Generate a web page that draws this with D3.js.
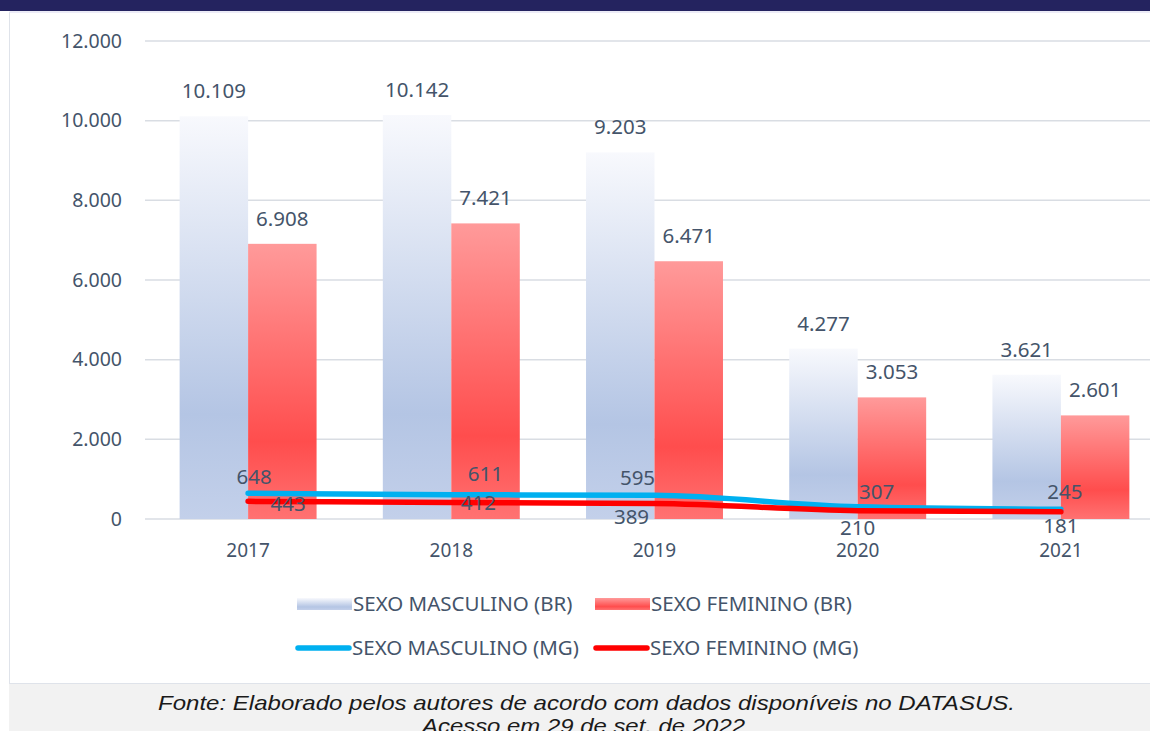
<!DOCTYPE html>
<html>
<head>
<meta charset="utf-8">
<script src="https://cdn.jsdelivr.net/npm/d3@7"></script>
<style>
  body { margin: 0; background: #fff; }
  svg { display: block; }
</style>
</head>
<body>
<div id="chart"></div>
<script>
// data
const years = ["2017", "2018", "2019", "2020", "2021"];
const masculinoBR = [10109, 10142, 9203, 4277, 3621];
const femininoBR = [6908, 7421, 6471, 3053, 2601];
const masculinoMG = [648, 611, 595, 307, 245];
const femininoMG = [443, 412, 389, 210, 181];
const yTicks = [0, 2000, 4000, 6000, 8000, 10000, 12000];
const seriesNames = ["SEXO MASCULINO (BR)", "SEXO FEMININO (BR)", "SEXO MASCULINO (MG)", "SEXO FEMININO (MG)"];

// label nudges for the MG lines (they were moved by hand in the original)
const mascNudge = [[6, -16], [34, -21], [-17, -17], [19, -15], [4, -17]];
const femNudge = [[40, 2], [27, 0], [-23, 13], [0, 17], [0, 14]];

const W = 1150, H = 731;
const textColor = "#44546a";
const font = "'Noto Sans', sans-serif";

const fmt = d3.formatLocale({ decimal: ",", thousands: ".", grouping: [3], currency: ["", ""] }).format(",d");

const svg = d3.select("#chart").append("svg")
  .attr("width", W)
  .attr("height", H);

// gradients
const defs = svg.append("defs");
const gM = defs.append("linearGradient").attr("id", "gradM")
  .attr("x1", 0).attr("y1", 0).attr("x2", 0).attr("y2", 1);
gM.append("stop").attr("offset", 0).attr("stop-color", "#f8f9fd");
gM.append("stop").attr("offset", 0.74).attr("stop-color", "#b4c5e4");
gM.append("stop").attr("offset", 1).attr("stop-color", "#c3d0ea");
const gF = defs.append("linearGradient").attr("id", "gradF")
  .attr("x1", 0).attr("y1", 0).attr("x2", 0).attr("y2", 1);
gF.append("stop").attr("offset", 0).attr("stop-color", "#ff9a9a");
gF.append("stop").attr("offset", 0.72).attr("stop-color", "#ff4d4d");
gF.append("stop").attr("offset", 1).attr("stop-color", "#ff7272");

// frame: dark band on top, panel border, grey caption strip
svg.append("rect").attr("x", 0).attr("y", 0).attr("width", W).attr("height", 11).attr("fill", "#24235f");
svg.append("line").attr("x1", 9.5).attr("x2", W).attr("y1", 12).attr("y2", 12).attr("stroke", "#d9d8ef");
svg.append("line").attr("x1", 9.5).attr("x2", 9.5).attr("y1", 12).attr("y2", 683).attr("stroke", "#dfe3ea");
svg.append("rect").attr("x", 9).attr("y", 683).attr("width", W - 9).attr("height", H - 683).attr("fill", "#f2f2f2");
svg.append("line").attr("x1", 9).attr("x2", W).attr("y1", 683.5).attr("y2", 683.5).attr("stroke", "#dfe3ea");

// scales
const x0 = d3.scaleBand()
  .domain(years)
  .range([146.5, 1162.5])
  .paddingInner(0.326)
  .paddingOuter(0.163);

const x1 = d3.scaleBand()
  .domain(["m", "f"])
  .range([0, x0.bandwidth()]);

const y = d3.scaleLinear()
  .domain([0, 12000])
  .range([519, 41]);

// grid
svg.append("g")
  .selectAll("line")
  .data(yTicks)
  .join("line")
  .attr("x1", 145).attr("x2", W)
  .attr("y1", d => y(d)).attr("y2", d => y(d))
  .attr("stroke", "#d9dde3")
  .attr("stroke-width", 1.5);

// y axis labels
svg.append("g")
  .selectAll("text")
  .data(yTicks)
  .join("text")
  .attr("x", 122)
  .attr("y", d => y(d))
  .attr("dy", "0.35em")
  .attr("text-anchor", "end")
  .attr("fill", textColor)
  .style("font-family", font)
  .style("font-size", "19.5px")
  .text(d => fmt(d));

// x axis labels
svg.append("g")
  .selectAll("text")
  .data(years)
  .join("text")
  .attr("x", d => x0(d) + x0.bandwidth() / 2)
  .attr("y", 557)
  .attr("text-anchor", "middle")
  .attr("fill", textColor)
  .style("font-family", font)
  .style("font-size", "19px")
  .text(d => d);

// bars
const groups = svg.append("g")
  .selectAll("g")
  .data(years)
  .join("g")
  .attr("transform", d => `translate(${x0(d)},0)`);

groups.append("rect")
  .attr("x", x1("m"))
  .attr("width", x1.bandwidth())
  .attr("y", (d, i) => y(masculinoBR[i]))
  .attr("height", (d, i) => y(0) - y(masculinoBR[i]))
  .attr("fill", "url(#gradM)");

groups.append("rect")
  .attr("x", x1("f"))
  .attr("width", x1.bandwidth())
  .attr("y", (d, i) => y(femininoBR[i]))
  .attr("height", (d, i) => y(0) - y(femininoBR[i]))
  .attr("fill", "url(#gradF)");

groups.append("text")
  .attr("x", x1("m") + x1.bandwidth() / 2)
  .attr("y", (d, i) => y(masculinoBR[i]) - 18)
  .attr("text-anchor", "middle")
  .attr("fill", textColor)
  .style("font-family", font)
  .style("font-size", "20.5px")
  .text((d, i) => fmt(masculinoBR[i]));

groups.append("text")
  .attr("x", x1("f") + x1.bandwidth() / 2)
  .attr("y", (d, i) => y(femininoBR[i]) - 18)
  .attr("text-anchor", "middle")
  .attr("fill", textColor)
  .style("font-family", font)
  .style("font-size", "20.5px")
  .text((d, i) => fmt(femininoBR[i]));

// MG lines
const cx = d => x0(d) + x0.bandwidth() / 2;
const line = vals => d3.line()
  .x(d => cx(d))
  .y((d, i) => y(vals[i]))
  .curve(d3.curveMonotoneX)(years);

svg.append("path")
  .attr("d", line(masculinoMG))
  .attr("fill", "none")
  .attr("stroke", "#00b0f0")
  .attr("stroke-width", 5.5)
  .attr("stroke-linecap", "round");

svg.append("path")
  .attr("d", line(femininoMG))
  .attr("fill", "none")
  .attr("stroke", "#ff0000")
  .attr("stroke-width", 5.5)
  .attr("stroke-linecap", "round");

// MG labels
svg.append("g")
  .selectAll("text")
  .data(years)
  .join("text")
  .attr("x", (d, i) => cx(d) + mascNudge[i][0])
  .attr("y", (d, i) => y(masculinoMG[i]) + mascNudge[i][1])
  .attr("dy", "0.35em")
  .attr("text-anchor", "middle")
  .attr("fill", textColor)
  .style("font-family", font)
  .style("font-size", "20.5px")
  .text((d, i) => masculinoMG[i]);

svg.append("g")
  .selectAll("text")
  .data(years)
  .join("text")
  .attr("x", (d, i) => cx(d) + femNudge[i][0])
  .attr("y", (d, i) => y(femininoMG[i]) + femNudge[i][1])
  .attr("dy", "0.35em")
  .attr("text-anchor", "middle")
  .attr("fill", textColor)
  .style("font-family", font)
  .style("font-size", "20.5px")
  .text((d, i) => femininoMG[i]);

// legend
const legend = svg.append("g").style("font-family", font).style("font-size", "20.5px");
const legendItems = [
  { name: seriesNames[0], x: 297, y: 604, type: "rect", fill: "url(#gradM)" },
  { name: seriesNames[1], x: 595, y: 604, type: "rect", fill: "url(#gradF)" },
  { name: seriesNames[2], x: 296, y: 648, type: "line", fill: "#00b0f0" },
  { name: seriesNames[3], x: 594, y: 648, type: "line", fill: "#ff0000" }
];
legendItems.forEach(it => {
  if (it.type === "rect") {
    legend.append("rect")
      .attr("x", it.x).attr("y", it.y - 6)
      .attr("width", 55).attr("height", 12)
      .attr("fill", it.fill);
  } else {
    legend.append("line")
      .attr("x1", it.x + 2).attr("x2", it.x + 53)
      .attr("y1", it.y).attr("y2", it.y)
      .attr("stroke", it.fill)
      .attr("stroke-width", 5.5)
      .attr("stroke-linecap", "round");
  }
  legend.append("text")
    .attr("x", it.x + 56)
    .attr("y", it.y)
    .attr("dy", "0.35em")
    .attr("fill", textColor)
    .text(it.name);
});

// caption
const caption = svg.append("g")
  .style("font-family", "'Liberation Sans', Arial, sans-serif")
  .style("font-style", "italic")
  .style("font-size", "21px")
  .attr("fill", "#1a1a1a");
caption.append("text")
  .attr("x", 158).attr("y", 710)
  .attr("textLength", 857)
  .attr("lengthAdjust", "spacingAndGlyphs")
  .text("Fonte: Elaborado pelos autores de acordo com dados disponíveis no DATASUS.");
caption.append("text")
  .attr("x", 422).attr("y", 733)
  .attr("textLength", 323)
  .attr("lengthAdjust", "spacingAndGlyphs")
  .text("Acesso em 29 de set. de 2022");
</script>
</body>
</html>
